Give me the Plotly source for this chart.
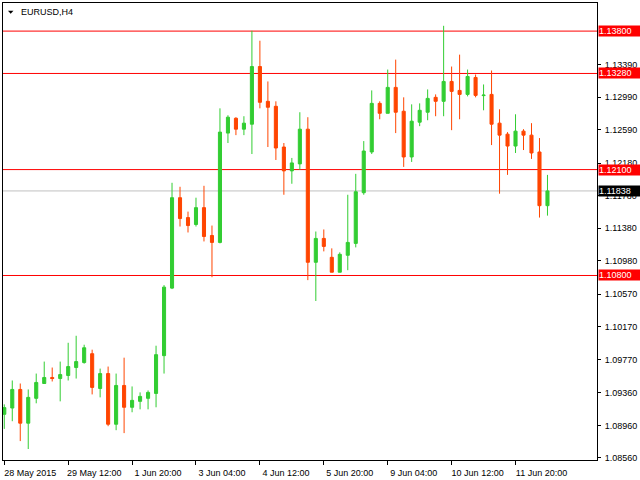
import plotly.graph_objects as go

# H4 EURUSD candles (index 0 = 28 May 2015)
open_ = [1.09096, 1.09173, 1.09401, 1.08987, 1.09292, 1.09474, 1.09548, 1.09535, 1.09572, 1.09670,
         1.09731, 1.09840, 1.09413, 1.09596, 1.08974, 1.09450, 1.09182, 1.09255, 1.09292, 1.09352,
         1.09816, 1.10645, 1.11755, 1.11511, 1.11426, 1.11633, 1.11291, 1.11206, 1.12548, 1.12730,
         1.12596, 1.12657, 1.13365, 1.12938, 1.12877, 1.12377, 1.12084, 1.12170, 1.12596, 1.10962,
         1.11255, 1.11023, 1.10840, 1.11048, 1.11194, 1.11816, 1.12316, 1.12913, 1.12791, 1.13109,
         1.12816, 1.12255, 1.12682, 1.12804, 1.12987, 1.12938, 1.13182, 1.13072, 1.13023, 1.13231,
         1.13008, 1.13023, 1.12670, 1.12535, 1.12389, 1.12572, 1.12523, 1.12316, 1.11657]
high = [1.09218, 1.09511, 1.09474, 1.09401, 1.09596, 1.09743, 1.09670, 1.09743, 1.09974, 1.10060,
        1.09950, 1.09889, 1.09657, 1.09682, 1.09596, 1.09791, 1.09438, 1.09365, 1.09389, 1.09938,
        1.10682, 1.11938, 1.11889, 1.11584, 1.11755, 1.11901, 1.11413, 1.12852, 1.12767, 1.12743,
        1.12755, 1.13804, 1.13682, 1.13182, 1.12938, 1.12426, 1.12243, 1.12804, 1.12743, 1.11340,
        1.11365, 1.11133, 1.11084, 1.11791, 1.12048, 1.12450, 1.13072, 1.12938, 1.13328, 1.13450,
        1.12987, 1.12901, 1.12913, 1.13084, 1.13023, 1.13865, 1.13365, 1.13511, 1.13328, 1.13267,
        1.13145, 1.13316, 1.12840, 1.12560, 1.12779, 1.12596, 1.12670, 1.12487, 1.12035]
low = [1.08917, 1.09011, 1.08767, 1.08670, 1.09231, 1.09474, 1.09499, 1.09255, 1.09511, 1.09535,
       1.09718, 1.09340, 1.09304, 1.08950, 1.08901, 1.08865, 1.09121, 1.09157, 1.09157, 1.09182,
       1.09596, 1.10633, 1.11401, 1.11328, 1.11401, 1.11218, 1.10779, 1.11194, 1.12426, 1.12523,
       1.12523, 1.12291, 1.12852, 1.12377, 1.12218, 1.11791, 1.11926, 1.12096, 1.10743, 1.10487,
       1.11096, 1.10840, 1.10840, 1.10865, 1.11145, 1.11791, 1.12291, 1.12718, 1.12791, 1.12548,
       1.12133, 1.12194, 1.12633, 1.12706, 1.12755, 1.12755, 1.12584, 1.12718, 1.12999, 1.12987,
       1.12828, 1.12401, 1.11804, 1.12035, 1.12304, 1.12340, 1.12231, 1.11511, 1.11535]
close = [1.09178, 1.09401, 1.08987, 1.09304, 1.09487, 1.09548, 1.09535, 1.09584, 1.09682, 1.09743,
         1.09913, 1.09426, 1.09596, 1.08974, 1.09450, 1.09182, 1.09267, 1.09316, 1.09365, 1.09828,
         1.10657, 1.11755, 1.11499, 1.11413, 1.11633, 1.11279, 1.11206, 1.12560, 1.12743, 1.12596,
         1.12670, 1.13365, 1.12926, 1.12865, 1.12365, 1.12084, 1.12182, 1.12596, 1.10962, 1.11255,
         1.11157, 1.10840, 1.11060, 1.11206, 1.11828, 1.12328, 1.12913, 1.12791, 1.13109, 1.12804,
         1.12255, 1.12694, 1.12828, 1.12974, 1.12938, 1.13182, 1.13060, 1.13023, 1.13243, 1.13011,
         1.13014, 1.12657, 1.12523, 1.12389, 1.12572, 1.12523, 1.12304, 1.11657, 1.11838]

x_tick_idx = [0, 8, 16, 24, 32, 40, 48, 56, 64]
x_tick_text = ["28 May 2015", "29 May 12:00", "1 Jun 20:00", "3 Jun 04:00", "4 Jun 12:00",
               "5 Jun 20:00", "9 Jun 04:00", "10 Jun 12:00", "11 Jun 20:00"]
y_tick_vals = [1.13390, 1.12990, 1.12590, 1.12180, 1.11780, 1.11380, 1.10980, 1.10570,
               1.10170, 1.09770, 1.09360, 1.08960, 1.08560]
levels = [1.13800, 1.13280, 1.12100, 1.10800]
current_price = 1.11838
symbol_title = "EURUSD,H4"

FONT = "Liberation Sans"
BULL = "#32CD32"
BEAR = "#FF4500"

x = list(range(len(open_)))

fig = go.Figure()
fig.add_trace(go.Candlestick(
    x=x, open=open_, high=high, low=low, close=close,
    increasing=dict(line=dict(color=BULL, width=1), fillcolor=BULL),
    decreasing=dict(line=dict(color=BEAR, width=1), fillcolor=BEAR),
    whiskerwidth=0, hoverinfo="skip",
))

shapes = []
for lv in levels:
    shapes.append(dict(type="line", xref="paper", x0=0, x1=1, yref="y", y0=lv, y1=lv,
                       line=dict(color="#FF0000", width=1), layer="below"))
shapes.append(dict(type="line", xref="paper", x0=0, x1=1, yref="y", y0=current_price, y1=current_price,
                   line=dict(color="#C0C0C0", width=1), layer="below"))
# small dropdown triangle before the symbol
shapes.append(dict(type="path", xref="paper", yref="paper",
                   path="M 0.0084 0.9833 L 0.0176 0.9833 L 0.0130 0.9765 Z",
                   fillcolor="black", line=dict(width=0)))

annotations = []
for lv in levels:
    annotations.append(dict(xref="paper", x=1, xanchor="left", xshift=1, yref="y", y=lv,
                            yanchor="middle", text=f"{lv:.5f}", showarrow=False,
                            font=dict(family=FONT, size=9, color="white"),
                            bgcolor="#FF0000", width=41, height=10, align="left", borderpad=0))
annotations.append(dict(xref="paper", x=1, xanchor="left", xshift=1, yref="y", y=current_price,
                        yanchor="middle", text=f"{current_price:.5f}", showarrow=False,
                        font=dict(family=FONT, size=9, color="white"),
                        bgcolor="#000000", width=41, height=10, align="left", borderpad=0))
annotations.append(dict(xref="paper", x=0.0269, xanchor="left", yref="paper", y=0.9804,
                        yanchor="middle", text=symbol_title, showarrow=False,
                        font=dict(family=FONT, size=9, color="black")))

fig.update_layout(
    width=640, height=480,
    margin=dict(l=2, r=43, t=2, b=18),
    plot_bgcolor="white", paper_bgcolor="white",
    showlegend=False, boxgap=0.45,
    font=dict(family=FONT, size=9, color="black"),
    shapes=shapes, annotations=annotations,
    xaxis=dict(range=[-0.16, 74.2], rangeslider=dict(visible=False), showgrid=False,
               zeroline=False, tickmode="array", tickvals=x_tick_idx, ticktext=x_tick_text,
               ticks="outside", ticklen=4, tickcolor="black", showline=True, linecolor="black",
               linewidth=1, mirror=True, ticklabelshift=26, ticklabelstandoff=0,
               tickfont=dict(family=FONT, size=9, color="black")),
    yaxis=dict(range=[1.08535, 1.14145], side="right", showgrid=False, zeroline=False,
               tickmode="array", tickvals=y_tick_vals, ticktext=[f"{v:.5f}" for v in y_tick_vals],
               ticks="outside", ticklen=3, tickcolor="black", showline=True, linecolor="black",
               linewidth=1, mirror=True, ticklabelstandoff=2,
               tickfont=dict(family=FONT, size=9, color="black")),
)

fig.write_html("out.html")
